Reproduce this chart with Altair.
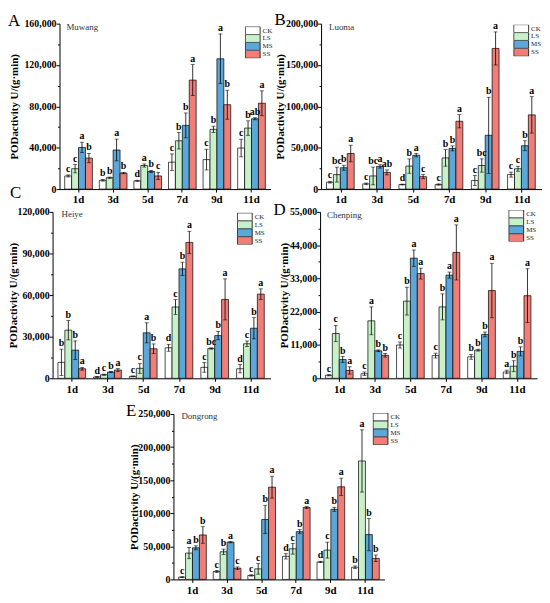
import altair as alt
import pandas as pd

SERIF = "Liberation Serif"
days = ["1d", "3d", "5d", "7d", "9d", "11d"]
groups = ["CK", "LS", "MS", "SS"]
colors = ["#ffffff", "#c9f1c9", "#5ba7d7", "#ee7e77"]

# ---- A: Muwang ----
A_val = {"CK": [12700, 8500, 8000, 26000, 28500, 39700],
         "LS": [19700, 11000, 22800, 46700, 57800, 59000],
         "MS": [40300, 37800, 17000, 61600, 126000, 68000],
         "SS": [30000, 15500, 12700, 105400, 81600, 83000]}
A_err = {"CK": [1000, 800, 500, 8000, 10000, 8500],
         "LS": [4000, 600, 1500, 7900, 3000, 7000],
         "MS": [5000, 10500, 1000, 12000, 24000, 1000],
         "SS": [4500, 700, 3500, 15000, 14000, 12000]}
A_sig = {"CK": ["c", "b", "d", "c", "c", "c"],
         "LS": ["c", "b", "a", "b", "b", "b"],
         "MS": ["a", "a", "b", "b", "a", "ab"],
         "SS": ["b", "b", "c", "a", "b", "a"]}

# ---- B: Luoma ----
B_val = {"CK": [8300, 6300, 5500, 5500, 10300, 17500],
         "LS": [17500, 15900, 27800, 37700, 28500, 24600],
         "MS": [25800, 27400, 40900, 49200, 65000, 52400],
         "SS": [43000, 20200, 15000, 82000, 170000, 89700]}
B_err = {"CK": [1000, 1000, 500, 800, 6000, 3000],
         "LS": [9000, 10700, 8700, 10000, 8000, 3000],
         "MS": [3000, 2000, 2000, 3000, 46000, 6000],
         "SS": [10000, 3000, 2500, 8000, 20000, 22000]}
B_sig = {"CK": ["c", "c", "d", "c", "c", "c"],
         "LS": ["bc", "bc", "b", "b", "bc", "c"],
         "MS": ["b", "a", "a", "b", "b", "b"],
         "SS": ["a", "ab", "c", "a", "a", "a"]}

# ---- C: Heiye ----
C_val = {"CK": [11500, 1000, 1400, 22000, 7900, 6900],
         "LS": [34700, 2600, 7200, 51400, 21500, 24900],
         "MS": [20300, 4500, 32800, 78900, 30800, 36100],
         "SS": [6900, 6000, 21300, 98000, 56900, 60700]}
C_err = {"CK": [9500, 300, 300, 2500, 3500, 3000],
         "LS": [7000, 400, 3600, 5300, 500, 2000],
         "MS": [6700, 400, 7200, 4800, 3000, 7600],
         "SS": [1000, 1000, 3500, 8000, 14800, 3800]}
C_sig = {"CK": ["b", "d", "c", "d", "c", "d"],
         "LS": ["b", "c", "c", "c", "bc", "c"],
         "MS": ["b", "b", "a", "b", "b", "b"],
         "SS": ["a", "a", "b", "a", "a", "a"]}

# ---- D: Chenping ----
D_val = {"CK": [1000, 1500, 11000, 7500, 7100, 2100],
         "LS": [14800, 19000, 25500, 23600, 9300, 4000],
         "MS": [6200, 9100, 39700, 34100, 14500, 8900],
         "SS": [2600, 7600, 34600, 41600, 29000, 27300]}
D_err = {"CK": [200, 600, 1000, 800, 800, 600],
         "LS": [2700, 4600, 4600, 4300, 300, 1800],
         "MS": [1000, 300, 2700, 1000, 800, 1500],
         "SS": [1200, 600, 1800, 9100, 9000, 8900]}
D_sig = {"CK": ["c", "c", "c", "c", "b", "a"],
         "LS": ["c", "a", "b", "b", "b", "b"],
         "MS": ["b", "b", "a", "a", "b", "b"],
         "SS": ["a", "b", "a", "a", "a", "a"]}

# ---- E: Dongrong ----
E_val = {"CK": [3500, 12000, 6000, 34900, 26400, 18400],
         "LS": [39800, 41800, 16000, 46300, 44300, 179000],
         "MS": [47800, 56300, 90600, 72200, 106000, 67700],
         "SS": [67200, 16900, 139400, 108600, 140000, 31900]}
E_err = {"CK": [500, 1500, 1000, 4000, 1000, 2000],
         "LS": [8500, 4000, 8000, 8000, 12000, 47000],
         "MS": [3000, 1000, 21400, 3000, 3000, 24400],
         "SS": [12500, 2000, 16500, 1500, 13000, 5000]}
E_sig = {"CK": ["c", "c", "c", "d", "d", "b"],
         "LS": ["a", "b", "c", "c", "c", "a"],
         "MS": ["b", "a", "b", "b", "b", "b"],
         "SS": ["b", "c", "a", "a", "a", "b"]}

panels = {
    "A": dict(name="Muwang", vals=A_val, errs=A_err, sig=A_sig, ymax=160000, step=40000,
              w=213, h=167, lx=-52, ly=2, nx=7, ny=3, gx=187, gy=3, tx=-40),
    "B": dict(name="Luoma", vals=B_val, errs=B_err, sig=B_sig, ymax=200000, step=50000,
              w=223, h=167, lx=-47, ly=1, nx=8, ny=3, gx=194, gy=1, tx=-36),
    "C": dict(name="Heiye", vals=C_val, errs=C_err, sig=C_sig, ymax=120000, step=30000,
              w=220, h=168, lx=-43, ly=-14, nx=9, ny=2, gx=186, gy=1, tx=-34),
    "D": dict(name="Chenping", vals=D_val, errs=D_err, sig=D_sig, ymax=55000, step=11000,
              w=219, h=168, lx=-47, ly=3, nx=7, ny=3, gx=190, gy=-2, tx=-31),
    "E": dict(name="Dongrong", vals=E_val, errs=E_err, sig=E_sig, ymax=250000, step=50000,
              w=213, h=167, lx=-48, ly=2, nx=8, ny=2, gx=201, gy=-1, tx=-34),
}


def make_df(p):
    rows = []
    for g in groups:
        for i, d in enumerate(days):
            v = p["vals"][g][i]
            e = p["errs"][g][i]
            rows.append(dict(day=d, group=g, value=v, lo=max(v - e, 0), hi=v + e,
                             sig=p["sig"][g][i]))
    return pd.DataFrame(rows)


def pin(x, top, bottom):
    # invisible layout anchor that fixes the extent of a row
    return alt.Chart(pd.DataFrame({"s": [0]})).mark_rect(opacity=0).encode(
        x=alt.value(x), x2=alt.value(x + 1), y=alt.value(top), y2=alt.value(bottom))


def panel(key, extra=None):
    p = panels[key]
    df = make_df(p)
    ymax, step = p["ymax"], p["step"]
    major = list(range(0, ymax + 1, step))
    minor = list(range(step // 2, ymax, step))
    yscale = alt.Scale(domain=[0, ymax], nice=False)
    base = alt.Chart(df).encode(
        x=alt.X("day:N", sort=days,
                scale=alt.Scale(paddingInner=0.2, paddingOuter=0.15),
                axis=alt.Axis(title=None, labelAngle=0, labelFontSize=11, tickSize=3,
                              labelPadding=2)),
        xOffset=alt.XOffset("group:N", sort=groups, scale=alt.Scale(paddingInner=0)),
    )
    bars = base.mark_bar(stroke="black", strokeWidth=0.7).encode(
        y=alt.Y("value:Q", scale=yscale,
                axis=alt.Axis(values=major, title="PODactivity U/(g·min)", titleX=p["tx"],
                              format=",.0f", tickSize=3.5, labelOverlap=False, labelPadding=0)),
        color=alt.Color("group:N", sort=groups,
                        scale=alt.Scale(domain=groups, range=colors),
                        legend=alt.Legend(title=None, orient="none", legendX=p["gx"], legendY=p["gy"],
                                          symbolType="M-1,-0.53H1V0.53H-1Z", symbolSize=225,
                                          symbolStrokeColor="black", symbolStrokeWidth=0.8,
                                          labelFont=SERIF, labelFontSize=7, labelColor="#222",
                                          clipHeight=8, rowPadding=0, labelOffset=2, padding=0)),
    )
    # minor ticks: a second, label-less axis on the same left side and the same scale
    minor_axis = base.mark_rule(opacity=0).encode(
        y=alt.Y("value:Q", scale=yscale,
                axis=alt.Axis(values=minor, orient="left", labels=False, domain=False,
                              title=None, tickSize=2)))
    rules = base.mark_rule(color="black", strokeWidth=0.8).encode(
        y=alt.Y("lo:Q", axis=None), y2="hi:Q")
    cap_hi = base.mark_tick(color="black", size=4, thickness=0.8, orient="horizontal").encode(
        y=alt.Y("hi:Q", axis=None))
    cap_lo = base.mark_tick(color="black", size=4, thickness=0.8, orient="horizontal").encode(
        y=alt.Y("lo:Q", axis=None))
    sig = base.mark_text(font=SERIF, fontWeight="bold", fontSize=10, baseline="bottom", dy=-1).encode(
        y=alt.Y("hi:Q", axis=None), text="sig:N")
    tdf = pd.DataFrame({"letter": [key], "name": [p["name"]]})
    letter = alt.Chart(tdf).mark_text(font=SERIF, fontSize=17, align="left", baseline="alphabetic").encode(
        x=alt.value(p["lx"]), y=alt.value(p["ly"]), text="letter:N")
    name = alt.Chart(tdf).mark_text(font=SERIF, fontSize=9, align="left", baseline="middle", color="#333").encode(
        x=alt.value(p["nx"]), y=alt.value(p["ny"]), text="name:N")
    layers = [bars, minor_axis, rules, cap_hi, cap_lo, sig, letter, name]
    if extra is not None:
        layers.append(extra)
    return alt.layer(*layers).resolve_axis(y="independent").properties(width=p["w"], height=p["h"])


def spacer(w, top, bottom):
    s = alt.Chart(pd.DataFrame({"s": [0]})).mark_point(opacity=0).encode(
        x=alt.value(0), y=alt.value(0))
    return alt.layer(s, pin(-45, top, bottom)).properties(width=w, height=10)


row1 = alt.hconcat(spacer(7, -12, 187),
                   alt.hconcat(panel("A"), panel("B"), spacing=51, bounds="flush").resolve_scale(color="independent"),
                   spacing=0, bounds="flush").resolve_scale(color="independent")
row2 = alt.hconcat(panel("C", pin(-45, -27, 190)), panel("D"), spacing=50,
                   bounds="flush").resolve_scale(color="independent")
row3 = alt.hconcat(spacer(122, -12, 187), panel("E"), spacing=0,
                   bounds="flush").resolve_scale(color="independent")

top = alt.vconcat(row1, row2, spacing=-25).resolve_scale(color="independent")
chart = alt.vconcat(top, row3, spacing=2).resolve_scale(color="independent").properties(
    padding=0
).configure_view(stroke=None).configure_axis(
    labelFont=SERIF, labelFontWeight="bold", labelFontSize=10, labelColor="black",
    titleFont=SERIF, titleFontWeight="bold", titleFontSize=11, titleColor="black",
    domainColor="black", tickColor="black", grid=False, domainWidth=1, tickWidth=1,
    labelOverlap=False
)

chart.save("out.html", embed_options={"renderer": "svg", "actions": False})
